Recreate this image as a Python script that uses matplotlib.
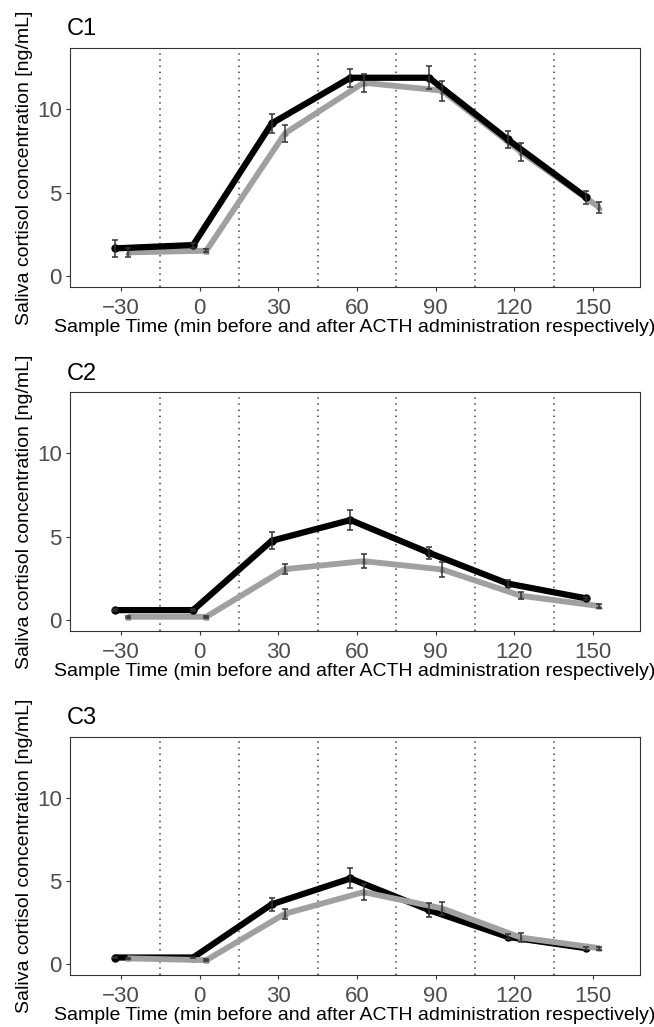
import numpy as np
import matplotlib.pyplot as plt

plt.rcParams['font.family'] = ['Liberation Sans', 'DejaVu Sans']

times = np.array([-30, 0, 30, 60, 90, 120, 150])
panel_titles = ['C1', 'C2', 'C3']

# black series (circles) and grey series (triangles): means and error half-widths
black_mean = [
    [1.66, 1.86, 9.14, 11.87, 11.87, 8.18, 4.71],
    [0.60, 0.60, 4.75, 5.99, 4.03, 2.19, 1.30],
    [0.40, 0.40, 3.60, 5.15, 3.25, 1.64, 0.96],
]
black_err = [
    [0.50, 0.15, 0.56, 0.55, 0.70, 0.52, 0.38],
    [0.05, 0.05, 0.50, 0.57, 0.36, 0.20, 0.10],
    [0.05, 0.05, 0.40, 0.60, 0.40, 0.15, 0.08],
]
grey_mean = [
    [1.42, 1.52, 8.54, 11.57, 11.10, 7.44, 4.11],
    [0.20, 0.20, 3.05, 3.53, 3.03, 1.46, 0.84],
    [0.35, 0.24, 3.03, 4.33, 3.35, 1.60, 0.96],
]
grey_err = [
    [0.25, 0.10, 0.53, 0.55, 0.60, 0.53, 0.35],
    [0.05, 0.05, 0.30, 0.42, 0.47, 0.20, 0.10],
    [0.05, 0.05, 0.30, 0.47, 0.40, 0.25, 0.10],
]
grey_on_top = [False, False, True]
dividers = [-15, 15, 45, 75, 105, 135]

W, H = 654, 1027
fig = plt.figure(figsize=(W / 100, H / 100), dpi=100)

# axes boxes in pixels: left, top, right, bottom
boxes = [(70, 48, 640, 287), (70, 392, 640, 631), (70, 737, 640, 975)]
dodge = 2.5

for i, (l, t, r, b) in enumerate(boxes):
    ax = fig.add_axes([l / W, 1 - b / H, (r - l) / W, (b - t) / H])
    for d in dividers:
        ax.axvline(d, color='#444444', ls=(0, (1, 3)), lw=1.1, zorder=1)

    zb, zg = (3, 4) if grey_on_top[i] else (4, 3)
    xb = times - dodge
    xg = times + dodge
    ax.plot(xg, grey_mean[i], color='#a0a0a0', lw=4.2, solid_capstyle='butt', zorder=zg)
    ax.plot(xg, grey_mean[i], ls='none', marker='^', ms=3.5, color='#888888', zorder=zg)
    ax.plot(xb, black_mean[i], color='black', lw=4.5, solid_capstyle='butt', zorder=zb)
    ax.plot(xb, black_mean[i], ls='none', marker='o', ms=5, color='black', zorder=zb)
    ax.errorbar(xb, black_mean[i], yerr=black_err[i], fmt='none', ecolor='#333333',
                elinewidth=1.1, capsize=2, capthick=1.1, zorder=5)
    ax.errorbar(xg, grey_mean[i], yerr=grey_err[i], fmt='none', ecolor='#333333',
                elinewidth=1.1, capsize=2, capthick=1.1, zorder=5)

    ax.set_xlim(-49.5, 168)
    ax.set_ylim(-0.65, 13.65)
    ax.set_xticks(times)
    ax.set_yticks([0, 5, 10])
    ax.tick_params(labelsize=16, labelcolor='#4d4d4d', color='#333333', length=3,
                   width=0.8, pad=3)
    ax.tick_params(axis='x', pad=5)
    for s in ax.spines.values():
        s.set_color('#333333')
        s.set_linewidth(0.8)
    ax.set_xlabel('Sample Time (min before and after ACTH administration respectively)',
                  fontsize=14, labelpad=0)
    ax.set_ylabel('Saliva cortisol concentration [ng/mL]', fontsize=14, labelpad=3)
    ax.set_title(panel_titles[i], loc='left', fontsize=17, pad=9, x=-0.005)

fig.savefig('out.png', dpi=100)
